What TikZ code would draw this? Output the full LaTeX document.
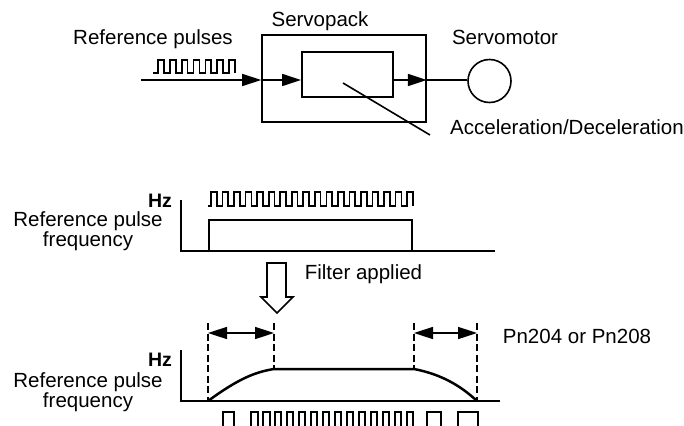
\documentclass[tikz,border=0pt]{standalone}
\usepackage{fontspec}
\setmainfont{Liberation Sans}
\usetikzlibrary{arrows.meta,calc}
\tikzset{
  txt/.style={font=\fontsize{20.5}{20}\selectfont, inner sep=0pt},
  hz/.style={font=\fontsize{19.5}{19.5}\selectfont\bfseries, inner sep=0pt},
  ln/.style={line width=1.6pt},
  arr/.style={ln, -{Triangle[length=19pt,width=12pt]}},
  dbl/.style={ln, {Triangle[length=19pt,width=12pt]}-{Triangle[length=19pt,width=12pt]}},
  dsh/.style={line width=1.7pt, dash pattern=on 7pt off 3.5pt},
  ax/.style={line width=2pt},
  pulse/.style={line width=1.7pt},
  curve/.style={line width=2.5pt}
}
\begin{document}
\begin{tikzpicture}[x=1pt,y=-1pt]
\useasboundingbox (0,0) rectangle (684,425);

% ---------- top block diagram ----------
\node[txt, anchor=base] (lref) at (153,45) {Reference pulses};
\node[txt, anchor=base] (lsp) at (320,27) {Servopack};
\node[txt, anchor=base] (lmot) at (505,45) {Servomotor};
\node[txt, anchor=base] (lacc) at (567,134) {Acceleration/Deceleration};

\node[draw, ln, minimum width=164pt, minimum height=87pt, inner sep=0pt] (sp) at (344,78.5) {};
\node[draw, line width=1.9pt, minimum width=91pt, minimum height=45pt, inner sep=0pt] (filt) at (347.5,74.5) {};
\node[draw, circle, ln, minimum size=43pt, inner sep=0pt] (motor) at (489.5,81) {};

\coordinate (in) at (141,80);
\draw[arr] (in) -- (in -| sp.west);
\draw[arr] (in -| sp.west) -- (in -| filt.west);
\draw[arr] (in -| filt.east) -- (in -| sp.east);
\draw[ln] (in -| sp.east) -- (in -| motor.west);

\coordinate (leadstart) at (343,83);
\coordinate (leadend) at (430,135);
\draw[ln] (leadstart) -- (leadend);

% small input pulse train
\draw[pulse] (153,73) \foreach \k in {0,...,6} { -- ({158+\k*11.85},73) -- ++(0,-13) -- ++(5.9,0) -- ++(0,13) };

% ---------- middle graph ----------
\node[hz, anchor=base] (hz1) at (160,207) {Hz};
\node[txt, align=center] (lf1) at (88,231.5) {Reference pulse\\frequency};
\coordinate (o1) at (181,251);
\draw[ax] (181,200) -- (o1) -- (495,251);
\draw[ax] (209,251) -- (209,220) -- (412,220) -- (412,251);
\draw[pulse] (208,206) \foreach \k in {0,...,17} { -- ({211+\k*11.54},206) -- ++(0,-14) -- ++(5.77,0) -- ++(0,14) };

% hollow arrow
\draw[line width=1.7pt, fill=white] (267,263) -- (286,263) -- (286,297) -- (293,297) -- (277,313) -- (261,297) -- (267,297) -- cycle;
\node[txt, anchor=base] (lfilt) at (363.5,279) {Filter applied};

% ---------- bottom graph ----------
\node[hz, anchor=base] (hz2) at (160,366) {Hz};
\node[txt, align=center] (lf2) at (88,392) {Reference pulse\\frequency};
\node[txt, anchor=base] (lpn) at (577,343) {Pn204 or Pn208};

\draw[ax] (181,350) -- (181,401) -- (500,401);
\draw[dsh] (208,323) -- (208,401);
\draw[dsh] (274,323) -- (274,369);
\draw[dsh] (414,323) -- (414,369);
\draw[dsh] (477,323) -- (477,401);
\draw[dbl] (208,333) -- (274,333);
\draw[dbl] (414,333) -- (477,333);
\draw[curve] (208,401) .. controls (238,379) and (255,372) .. (274,369) -- (414,369) .. controls (440,374) and (460,385) .. (477,401);

% output pulse train (cut at bottom edge)
\foreach \s/\w in {223/11, 251/7, 263/7, 275/6, 287/6, 299/6, 311/6, 323/6, 335/6, 347/6, 359/6, 371/6, 383/6, 395/6, 407/6, 427/14, 458/20}
  \draw[pulse] (\s,427) -- (\s,412) -- ++(\w,0) -- ++(0,15);
\end{tikzpicture}
\end{document}
